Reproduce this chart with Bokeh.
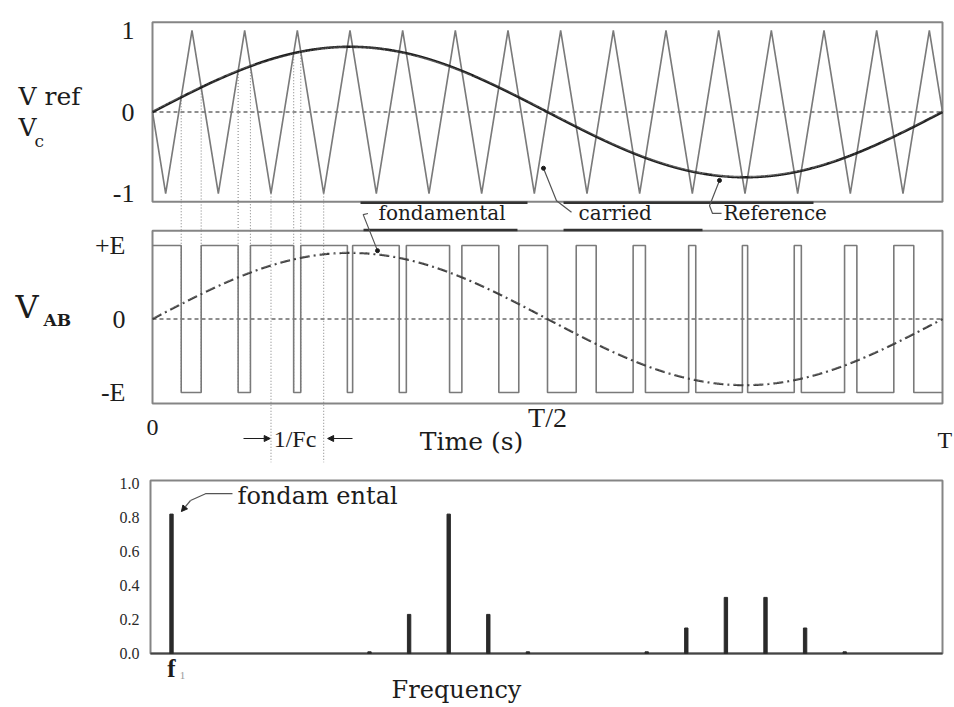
import numpy as np
from bokeh.plotting import figure
from bokeh.models import Range1d, Arrow, NormalHead
from bokeh.layouts import column
from bokeh.embed import file_html
from bokeh.resources import INLINE
from bokeh.core.properties import value

# ------------------------------------------------------------------ data
N_CARRIER = 15            # carrier periods in one fundamental period T
M_REF = 0.8               # reference amplitude (top panel)
FUND_AMP = 0.9            # fundamental of V_AB (units of E)
TOP_TICKS = [-1, 0, 1]
TOP_TICK_LABELS = ["-1", "0", "1"]
VAB_TICKS = [-1, 0, 1]
VAB_TICK_LABELS = ["-E", "0", "+E"]
TIME_TICKS = [0.0, 0.5, 1.0]
TIME_TICK_LABELS = ["0", "T/2", "T"]
N_DROP_LINES = 6          # intersections projected down to V_AB
FC_VALLEYS = [2, 3]       # carrier valleys that bound the 1/Fc marker

SPEC_FREQ = [1, 11, 13, 15, 17, 19, 25, 27, 29, 31, 33, 35]     # harmonic order
SPEC_AMP = [0.82, 0.01, 0.23, 0.82, 0.23, 0.01, 0.01, 0.15, 0.33, 0.33, 0.15, 0.01]
SPEC_YTICKS = [0.0, 0.2, 0.4, 0.6, 0.8, 1.0]
SPEC_YTICK_LABELS = ["0.0", "0.2", "0.4", "0.6", "0.8", "1.0"]
SPEC_XTICKS = [1]
SPEC_XTICK_LABELS = ["f"]

# annotation leader lines (time in T, value in panel units)
LEAD_FOND_T = [0.2728, 0.2667, 0.2848]
LEAD_FOND_V = [1.435, 1.42, 0.93]          # V_AB units
LEAD_CARR_T = [0.4949, 0.5114, 0.5304]
LEAD_CARR_V = [-0.69, -1.09, -1.23]        # top-panel units
LEAD_REF_T = [0.7177, 0.7051, 0.7089, 0.7203]
LEAD_REF_V = [-0.84, -1.15, -1.245, -1.245]
DARK_TOP_T0 = [0.2633, 0.5203]
DARK_TOP_T1 = [0.4747, 0.8367]
DARK_BOT_T0 = [0.2671, 0.5203]
DARK_BOT_T1 = [0.4620, 0.6962]
SPEC_LEAD_F = [4.08, 2.72, 1.96]
SPEC_LEAD_A = [0.94, 0.94, 0.90]

# ------------------------------------------------------------------ style
SERIF = "DejaVu Serif"
TIMES = "Liberation Serif"
BOX = "#858585"
CARRIER = "#7a7a7a"
INK = "#1c1c1c"

# ------------------------------------------------------------------ layout (pixels)
W = 954
H1 = 474
H2 = 233
T0_PX, PXT = 152.0, 790.0                  # t=0 position, pixels per period T
TOP_ZERO, TOP_UNIT = 111.5, 81.5
VAB_ZERO, VAB_UNIT = 318.5, 73.5
x_start = -T0_PX / PXT
x_end = x_start + W / PXT
top_end = TOP_ZERO / TOP_UNIT
top_start = top_end - H1 / TOP_UNIT
vab_end = VAB_ZERO / VAB_UNIT
vab_start = vab_end - H1 / VAB_UNIT

def tx(px):      # page x pixel -> time units (for text placement)
    return (px - T0_PX) / PXT

# ------------------------------------------------------------------ signals
def carrier(tt):
    return -(2 / np.pi) * np.arcsin(np.sin(2 * np.pi * N_CARRIER * np.asarray(tt)))

t = np.linspace(0, 1, 60001)
ref = M_REF * np.sin(2 * np.pi * t)
k = np.arange(N_CARRIER)
tv = np.sort(np.concatenate([[0.0, 1.0], (k + 0.25) / N_CARRIER, (k + 0.75) / N_CARRIER]))
cv = carrier(tv)

d = ref - carrier(t)
s = np.where(d > 0, 1.0, -1.0)
s[0] = s[1]
idx = np.where(np.diff(s) != 0)[0]
switch_t = [t[i] - d[i] * (t[i + 1] - t[i]) / (d[i + 1] - d[i]) for i in idx]
step_t, step_v = [0.0], [s[0]]
cur = s[0]
for ts in switch_t:
    step_t += [ts, ts]
    step_v += [cur, -cur]
    cur = -cur
step_t.append(1.0)
step_v.append(cur)
fund = FUND_AMP * np.sin(2 * np.pi * t)

# ------------------------------------------------------------------ figure 1
p1 = figure(width=W, height=H1, output_backend="svg", toolbar_location=None,
            x_range=Range1d(x_start, x_end), y_range=Range1d(top_start, top_end),
            x_axis_location=None, y_axis_location=None,
            min_border=0, outline_line_color=None,
            background_fill_color="white", border_fill_color="white")
p1.extra_y_ranges = {"vab": Range1d(vab_start, vab_end)}
p1.xgrid.visible = False
p1.ygrid.visible = False

def txt(p, x, y, text, font, size, align="left", style="normal", color=INK, rng=None):
    kw = dict(y_range_name=rng) if rng else {}
    p.text(x=x, y=y, text=text, text_font=value(font), text_font_size=size,
           text_font_style=style, text_color=color, text_baseline="middle",
           text_align=align, **kw)

# boxes
p1.quad(left=0, right=1, bottom=-1.1, top=1.1, fill_color=None, line_color=BOX, line_width=2)
p1.quad(left=0, right=1, bottom=-1.15, top=1.2, fill_color=None, line_color=BOX, line_width=2,
        y_range_name="vab")
p1.segment(x0=DARK_TOP_T0, x1=DARK_TOP_T1, y0=[-1.115] * 2, y1=[-1.115] * 2,
           line_color="#333333", line_width=2.5)
p1.segment(x0=DARK_BOT_T0, x1=DARK_BOT_T1, y0=[1.21] * 2, y1=[1.21] * 2,
           line_color="#333333", line_width=2.5, y_range_name="vab")

# zero lines
p1.line([0, 1], [0, 0], line_color="#6a6a6a", line_width=1.3, line_dash="4 3")
p1.line([0, 1], [0, 0], line_color="#6a6a6a", line_width=1.3, line_dash="4 3", y_range_name="vab")

# drop lines from intersections
drop_t = switch_t[:N_DROP_LINES]
drop_v = [M_REF * np.sin(2 * np.pi * x) for x in drop_t]
p1.segment(x0=drop_t, x1=drop_t, y0=drop_v, y1=[-1.45] * len(drop_t),
           line_color="#8a8a8a", line_width=1.1, line_dash="1 2")
p1.segment(x0=drop_t, x1=drop_t, y0=[1.2] * len(drop_t), y1=[-1.0] * len(drop_t),
           line_color="#8a8a8a", line_width=1.1, line_dash="1 2", y_range_name="vab")
fc_t = [(kk + 0.25) / N_CARRIER for kk in FC_VALLEYS]
p1.segment(x0=fc_t, x1=fc_t, y0=[-1.0] * 2, y1=[-1.45] * 2,
           line_color="#8a8a8a", line_width=1.1, line_dash="1 2")
p1.segment(x0=fc_t, x1=fc_t, y0=[1.2] * 2, y1=[-1.95] * 2,
           line_color="#8a8a8a", line_width=1.1, line_dash="1 2", y_range_name="vab")

# signals
p1.line(tv, cv, line_color=CARRIER, line_width=1.6)
p1.line(t, ref, line_color=INK, line_width=2.6)
p1.line(step_t, step_v, line_color=CARRIER, line_width=1.6, y_range_name="vab")
p1.line(t, fund, line_color="#3a3a3a", line_width=2.2, line_dash="10 4 2 4", y_range_name="vab")

# leaders
p1.line(LEAD_FOND_T, LEAD_FOND_V, line_color="#555555", line_width=1.2, y_range_name="vab")
p1.line(LEAD_CARR_T, LEAD_CARR_V, line_color="#555555", line_width=1.2)
p1.line(LEAD_REF_T, LEAD_REF_V, line_color="#555555", line_width=1.2)
p1.scatter([LEAD_CARR_T[0], LEAD_REF_T[0]], [LEAD_CARR_V[0], LEAD_REF_V[0]], size=4, color=INK)
p1.scatter([LEAD_FOND_T[-1]], [LEAD_FOND_V[-1]], size=4, color=INK, y_range_name="vab")

# annotation words
txt(p1, [tx(378), tx(578), tx(723)], [-1.245] * 3, ["fondamental", "carried", "Reference"],
    SERIF, "20px")

# y tick labels
txt(p1, [tx(134)] * 3, TOP_TICKS, TOP_TICK_LABELS, TIMES, "26px", align="right")
txt(p1, [tx(125)] * 3, VAB_TICKS, VAB_TICK_LABELS, TIMES, "26px", align="right", rng="vab")

# left side labels
txt(p1, [tx(18)], [0.19], ["V ref"], SERIF, "25px")
txt(p1, [tx(18)], [-0.19], ["V"], SERIF, "25px")
txt(p1, [tx(34)], [-0.35], ["c"], SERIF, "17px")
txt(p1, [tx(15)], [0.17], ["V"], SERIF, "32px", rng="vab")
txt(p1, [tx(43)], [-0.02], ["AB"], SERIF, "17px", style="bold", rng="vab")

# time axis labels
txt(p1, [TIME_TICKS[0]], [-1.48], [TIME_TICK_LABELS[0]], TIMES, "24px", align="center", rng="vab")
txt(p1, [TIME_TICKS[1]], [-1.34], [TIME_TICK_LABELS[1]], TIMES, "28px", align="center", rng="vab")
txt(p1, [tx(937)], [-1.65], [TIME_TICK_LABELS[2]], TIMES, "24px", rng="vab")
txt(p1, [tx(471)], [-1.67], ["Time (s)"], SERIF, "25px", align="center", rng="vab")
txt(p1, [sum(fc_t) / 2 - 0.003], [-1.626], ["1/Fc"], TIMES, "24px", align="center", rng="vab")
head = dict(size=6, fill_color=INK, line_color=INK)
p1.add_layout(Arrow(end=NormalHead(**head), x_start=tx(243), y_start=-1.626,
                    x_end=fc_t[0] - 0.001, y_end=-1.626, y_range_name="vab",
                    line_color=INK, line_width=1.2))
p1.add_layout(Arrow(end=NormalHead(**head), x_start=tx(352), y_start=-1.626,
                    x_end=fc_t[1] + 0.005, y_end=-1.626, y_range_name="vab",
                    line_color=INK, line_width=1.2))

# ------------------------------------------------------------------ figure 2 (spectrum)
F1_AT, F_PX = 171.0, 19.8                 # x pixel of f1, pixels per harmonic
AMP_ZERO, AMP_PX = 653.0 - H1, 170.0      # zero line (from fig top), pixels per unit
fs = 1 - F1_AT / F_PX
fe = fs + W / F_PX
a_end = AMP_ZERO / AMP_PX
a_start = a_end - H2 / AMP_PX

def fx(px):
    return 1 + (px - F1_AT) / F_PX

p2 = figure(width=W, height=H2, output_backend="svg", toolbar_location=None,
            x_range=Range1d(fs, fe), y_range=Range1d(a_start, a_end),
            x_axis_location=None, y_axis_location=None,
            min_border=0, outline_line_color=None,
            background_fill_color="white", border_fill_color="white")
p2.xgrid.visible = False
p2.ygrid.visible = False

p2.quad(left=fx(150), right=fx(942), bottom=0, top=1.018, fill_color=None,
        line_color=BOX, line_width=2)
p2.segment(x0=[fx(150)], x1=[fx(942)], y0=[0], y1=[0], line_color="#444444", line_width=2)
p2.vbar(x=SPEC_FREQ, top=SPEC_AMP, width=0.17, color="#2a2a2a")

txt(p2, [fx(139)] * len(SPEC_YTICKS), SPEC_YTICKS, SPEC_YTICK_LABELS, TIMES, "16px",
    align="right", color="#2a2a2a")
txt(p2, SPEC_XTICKS, [-0.088], SPEC_XTICK_LABELS, TIMES, "25px", align="center", style="bold")
txt(p2, [SPEC_XTICKS[0] + 0.42], [-0.13], ["1"], TIMES, "11px", color="#9a9a9a")
txt(p2, [fx(456)], [-0.215], ["Frequency"], SERIF, "24px", align="center")

p2.line(SPEC_LEAD_F, SPEC_LEAD_A, line_color="#555555", line_width=1.2)
p2.add_layout(Arrow(end=NormalHead(size=6, fill_color=INK, line_color=INK),
                    x_start=SPEC_LEAD_F[-1], y_start=SPEC_LEAD_A[-1], x_end=1.5, y_end=0.835,
                    line_color="#555555", line_width=1.2))
txt(p2, [fx(237)], [0.925], ["fondam ental"], SERIF, "24px")

layout = column(p1, p2, spacing=0)
open("out.html", "w").write(file_html(layout, INLINE))
